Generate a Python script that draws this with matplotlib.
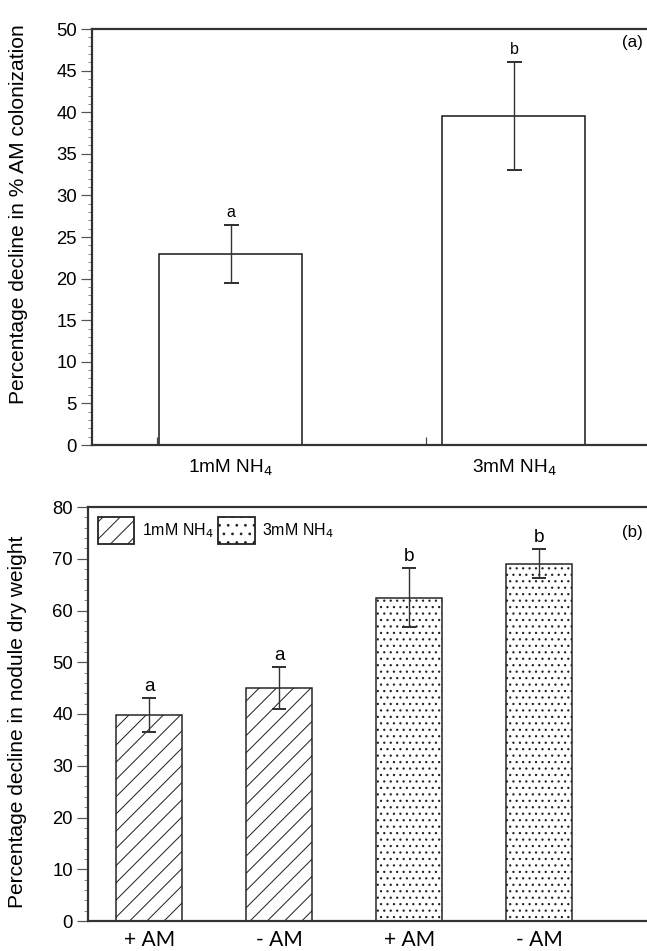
import matplotlib.pyplot as plt
from matplotlib.patches import Patch
from matplotlib.ticker import MultipleLocator, FixedLocator

plt.rcParams['font.family'] = ['Liberation Sans', 'DejaVu Sans']

# (a) decline in AM colonization
treatments = ['1mM NH$_4$', '3mM NH$_4$']
colon_decline = [23.0, 39.5]
colon_err = [3.5, 6.5]
colon_letters = ['a', 'b']

# (b) decline in nodule dry weight
am_labels = ['+ AM', '- AM', '+ AM', '- AM']
nodule_decline = [39.8, 45.0, 62.5, 69.0]
nodule_err = [3.3, 4.0, 5.7, 2.8]
nodule_letters = ['a', 'a', 'b', 'b']
nodule_hatch = ['///', '///', '....', '....']

# hatch spacing follows the dpi, so sizes below are given in pixels
DPI = 155
W, H = 647, 951


def px(v):
    return v * 72.0 / DPI


plt.rcParams['hatch.linewidth'] = px(1.0)

fig = plt.figure(figsize=(W / DPI, H / DPI), dpi=DPI)
ax1 = fig.add_axes([92 / W, (H - 445) / H, (660 - 92) / W, (445 - 29) / H])
ax2 = fig.add_axes([88 / W, (H - 921) / H, (660 - 88) / W, (921 - 507) / H])

ink = '#222222'


def style_axes(ax, major, minor, top):
    for side in ['top', 'left', 'bottom']:
        ax.spines[side].set_linewidth(px(2.2))
        ax.spines[side].set_color('#333333')
    ax.spines['right'].set_visible(False)
    ax.set_ylim(0, top)
    ax.yaxis.set_major_locator(MultipleLocator(major))
    ax.yaxis.set_minor_locator(MultipleLocator(minor))
    ax.tick_params(axis='y', which='major', direction='out', length=px(11),
                   width=px(1.2), color='#555555', labelsize=px(18.5),
                   pad=px(4))
    ax.tick_params(axis='y', which='minor', direction='out', length=px(4),
                   width=px(1.0), color='#888888')


# panel (a)
x1 = range(len(treatments))
ax1.bar(x1, colon_decline, width=0.505, color='white', edgecolor=ink,
        linewidth=px(1.6), zorder=2)
ax1.errorbar(x1, colon_decline, yerr=colon_err, fmt='none', ecolor='#333333',
             elinewidth=px(1.4), capsize=px(7.5), capthick=px(2.0), zorder=3)
for xi, v, e, s in zip(x1, colon_decline, colon_err, colon_letters):
    ax1.annotate(s, (xi, v + e), xytext=(0, px(5)), textcoords='offset points',
                 ha='center', va='bottom', fontsize=px(16))
style_axes(ax1, 5, 1, 50)
ax1.set_xlim(-0.49, 1.516)
ax1.set_xticks(list(x1))
ax1.set_xticklabels(treatments, fontsize=px(19))
ax1.xaxis.set_minor_locator(FixedLocator([-0.26, 0.21, 0.69, 1.16]))
ax1.tick_params(axis='x', which='major', length=0, pad=px(13))
ax1.tick_params(axis='x', which='minor', direction='in', length=px(8),
                width=px(1.2), color='#444444')
ax1.set_ylabel('Percentage decline in % AM colonization', fontsize=px(21))
ax1.yaxis.set_label_coords(-0.113, 0.555)

# panel (b)
x2 = range(len(am_labels))
bars = ax2.bar(x2, nodule_decline, width=0.508, color='white',
               edgecolor=ink, linewidth=px(1.5), zorder=2)
for b, h in zip(bars, nodule_hatch):
    b.set_hatch(h)
ax2.errorbar(x2, nodule_decline, yerr=nodule_err, fmt='none',
             ecolor='#333333', elinewidth=px(1.4), capsize=px(7),
             capthick=px(2.0), zorder=3)
for xi, v, e, s in zip(x2, nodule_decline, nodule_err, nodule_letters):
    ax2.annotate(s, (xi, v + e), xytext=(0, px(3)), textcoords='offset points',
                 ha='center', va='bottom', fontsize=px(19))
style_axes(ax2, 10, 2, 80)
ax2.set_xlim(-0.47, 3.93)
ax2.set_xticks(list(x2))
ax2.set_xticklabels(am_labels, fontsize=px(21), family=['Lato', 'DejaVu Sans'])
ax2.tick_params(axis='x', length=0, pad=px(9))
ax2.set_ylabel('Percentage decline in nodule dry weight', fontsize=px(21))
ax2.yaxis.set_label_coords(-0.106, 0.48)

handles = [Patch(facecolor='white', edgecolor=ink, hatch='///',
                 linewidth=px(1.8)),
           Patch(facecolor='white', edgecolor=ink, hatch='...',
                 linewidth=px(1.8))]
ax2.legend(handles, treatments, ncol=2, loc='upper left', frameon=False,
           fontsize=px(16), handlelength=2.3, handleheight=2.3,
           handletextpad=0.45, columnspacing=0.3, borderaxespad=0.4,
           borderpad=0.2)

fig.text(632 / W, 1 - 43 / H, '(a)', ha='center', va='center',
         fontsize=px(17))
fig.text(632 / W, 1 - 533 / H, '(b)', ha='center', va='center',
         fontsize=px(17))

fig.savefig('out.png', dpi=DPI, facecolor='white')
